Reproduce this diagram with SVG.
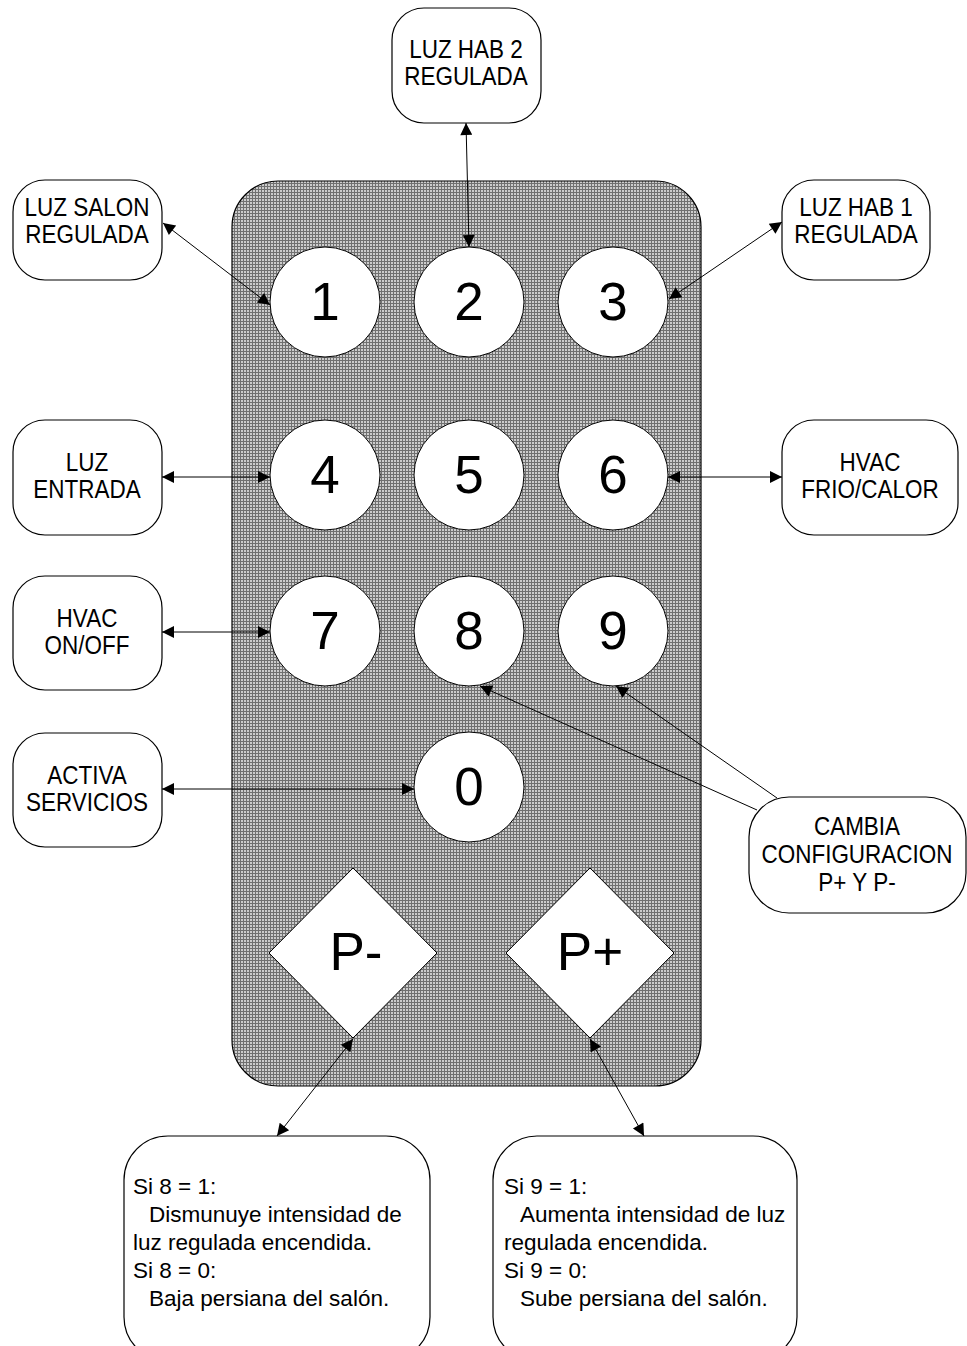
<svg xmlns="http://www.w3.org/2000/svg" width="967" height="1346" viewBox="0 0 967 1346">
<style>
.box{fill:#fff;stroke:#000;stroke-width:1.2}
.key{fill:#fff;stroke:#000;stroke-width:1}
.lbl{font-family:"Liberation Sans",Arial,sans-serif;font-size:26px;fill:#000;text-anchor:middle}
.big{font-family:"Liberation Sans",Arial,sans-serif;font-size:53px;fill:#000;text-anchor:middle}
.note{font-family:"Liberation Sans",Arial,sans-serif;font-size:22.5px;fill:#000}
.con{stroke:#000;stroke-width:1;fill:none}
</style>
<defs>
<pattern id="grid" width="3" height="3" patternUnits="userSpaceOnUse">
<rect width="3" height="3" fill="#cccccc"/>
<path d="M0 0.5H3M0.5 0V3" stroke="#707070" stroke-width="1"/>
</pattern>
<marker id="ah" viewBox="0 0 10 10" refX="10" refY="5" markerWidth="16" markerHeight="12" markerUnits="userSpaceOnUse" orient="auto-start-reverse">
<path d="M0 0L10 5L0 10z" fill="#000"/>
</marker>
</defs>
<g id="remote"><rect x="232" y="181" width="469" height="905" rx="46" fill="url(#grid)" stroke="#000" stroke-width="1.2"/></g>
<g id="k1"><circle class="key" cx="325" cy="302" r="55"/><text class="big" x="325" y="320">1</text></g>
<g id="k2"><circle class="key" cx="469" cy="302" r="55"/><text class="big" x="469" y="320">2</text></g>
<g id="k3"><circle class="key" cx="613" cy="302" r="55"/><text class="big" x="613" y="320">3</text></g>
<g id="k4"><circle class="key" cx="325" cy="475" r="55"/><text class="big" x="325" y="493">4</text></g>
<g id="k5"><circle class="key" cx="469" cy="475" r="55"/><text class="big" x="469" y="493">5</text></g>
<g id="k6"><circle class="key" cx="613" cy="475" r="55"/><text class="big" x="613" y="493">6</text></g>
<g id="k7"><circle class="key" cx="325" cy="631" r="55"/><text class="big" x="325" y="649">7</text></g>
<g id="k8"><circle class="key" cx="469" cy="631" r="55"/><text class="big" x="469" y="649">8</text></g>
<g id="k9"><circle class="key" cx="613" cy="631" r="55"/><text class="big" x="613" y="649">9</text></g>
<g id="k0"><circle class="key" cx="469" cy="787" r="55"/><text class="big" x="469" y="805">0</text></g>
<g id="kPminus"><polygon class="key" points="353,868 437,953 353,1038 269,953"/><text class="big" x="356" y="970">P-</text></g>
<g id="kPplus"><polygon class="key" points="590,868 674,953 590,1038 506,953"/><text class="big" x="590" y="970">P+</text></g>
<g id="nSalon"><rect class="box" x="13" y="180" width="149" height="100" rx="32"/><g transform="translate(87,0) scale(0.865,1)"><text class="lbl" x="0" y="216">LUZ SALON</text><text class="lbl" x="0" y="243">REGULADA</text></g></g>
<g id="nHab2"><rect class="box" x="392" y="8" width="149" height="115" rx="32"/><g transform="translate(466,0) scale(0.865,1)"><text class="lbl" x="0" y="58">LUZ HAB 2</text><text class="lbl" x="0" y="85">REGULADA</text></g></g>
<g id="nHab1"><rect class="box" x="782" y="180" width="148" height="100" rx="32"/><g transform="translate(856,0) scale(0.865,1)"><text class="lbl" x="0" y="216">LUZ HAB 1</text><text class="lbl" x="0" y="243">REGULADA</text></g></g>
<g id="nEntrada"><rect class="box" x="13" y="420" width="149" height="115" rx="32"/><g transform="translate(87,0) scale(0.865,1)"><text class="lbl" x="0" y="471">LUZ</text><text class="lbl" x="0" y="498">ENTRADA</text></g></g>
<g id="nFrio"><rect class="box" x="782" y="420" width="176" height="115" rx="32"/><g transform="translate(870,0) scale(0.865,1)"><text class="lbl" x="0" y="471">HVAC</text><text class="lbl" x="0" y="498">FRIO/CALOR</text></g></g>
<g id="nOnOff"><rect class="box" x="13" y="576" width="149" height="114" rx="32"/><g transform="translate(87,0) scale(0.865,1)"><text class="lbl" x="0" y="627">HVAC</text><text class="lbl" x="0" y="654">ON/OFF</text></g></g>
<g id="nServicios"><rect class="box" x="13" y="733" width="149" height="114" rx="32"/><g transform="translate(87,0) scale(0.865,1)"><text class="lbl" x="0" y="784">ACTIVA</text><text class="lbl" x="0" y="811">SERVICIOS</text></g></g>
<g id="nCambia"><rect class="box" x="749" y="797" width="217" height="116" rx="40"/><g transform="translate(857,0) scale(0.865,1)"><text class="lbl" x="0" y="835">CAMBIA</text><text class="lbl" x="0" y="863">CONFIGURACION</text><text class="lbl" x="0" y="891">P+ Y P-</text></g></g>
<g id="nPminus"><rect class="box" x="124" y="1136" width="306" height="225" rx="44"/>
<text class="note" x="133" y="1194">Si 8 = 1:</text>
<text class="note" x="149" y="1222">Dismunuye intensidad de</text>
<text class="note" x="133" y="1250">luz regulada encendida.</text>
<text class="note" x="133" y="1278">Si 8 = 0:</text>
<text class="note" x="149" y="1306">Baja persiana del salón.</text></g>
<g id="nPplus"><rect class="box" x="493" y="1136" width="304" height="225" rx="44"/>
<text class="note" x="504" y="1194">Si 9 = 1:</text>
<text class="note" x="520" y="1222">Aumenta intensidad de luz</text>
<text class="note" x="504" y="1250">regulada encendida.</text>
<text class="note" x="504" y="1278">Si 9 = 0:</text>
<text class="note" x="520" y="1306">Sube persiana del salón.</text></g>
<g id="connectors">
<line class="con" x1="163" y1="223" x2="270" y2="305" marker-start="url(#ah)" marker-end="url(#ah)"/>
<line class="con" x1="466" y1="123" x2="469" y2="247" marker-start="url(#ah)" marker-end="url(#ah)"/>
<line class="con" x1="782" y1="222" x2="669" y2="299" marker-start="url(#ah)" marker-end="url(#ah)"/>
<line class="con" x1="162" y1="477" x2="270" y2="477" marker-start="url(#ah)" marker-end="url(#ah)"/>
<line class="con" x1="782" y1="477" x2="668" y2="477" marker-start="url(#ah)" marker-end="url(#ah)"/>
<line class="con" x1="162" y1="632" x2="270" y2="632" marker-start="url(#ah)" marker-end="url(#ah)"/>
<line class="con" x1="162" y1="789" x2="414" y2="789" marker-start="url(#ah)" marker-end="url(#ah)"/>
<line class="con" x1="757" y1="810" x2="480" y2="686" marker-end="url(#ah)"/>
<line class="con" x1="777" y1="798" x2="616" y2="686" marker-end="url(#ah)"/>
<line class="con" x1="277" y1="1136" x2="353" y2="1039" marker-start="url(#ah)" marker-end="url(#ah)"/>
<line class="con" x1="644" y1="1136" x2="590" y2="1039" marker-start="url(#ah)" marker-end="url(#ah)"/>
</g>
</svg>
